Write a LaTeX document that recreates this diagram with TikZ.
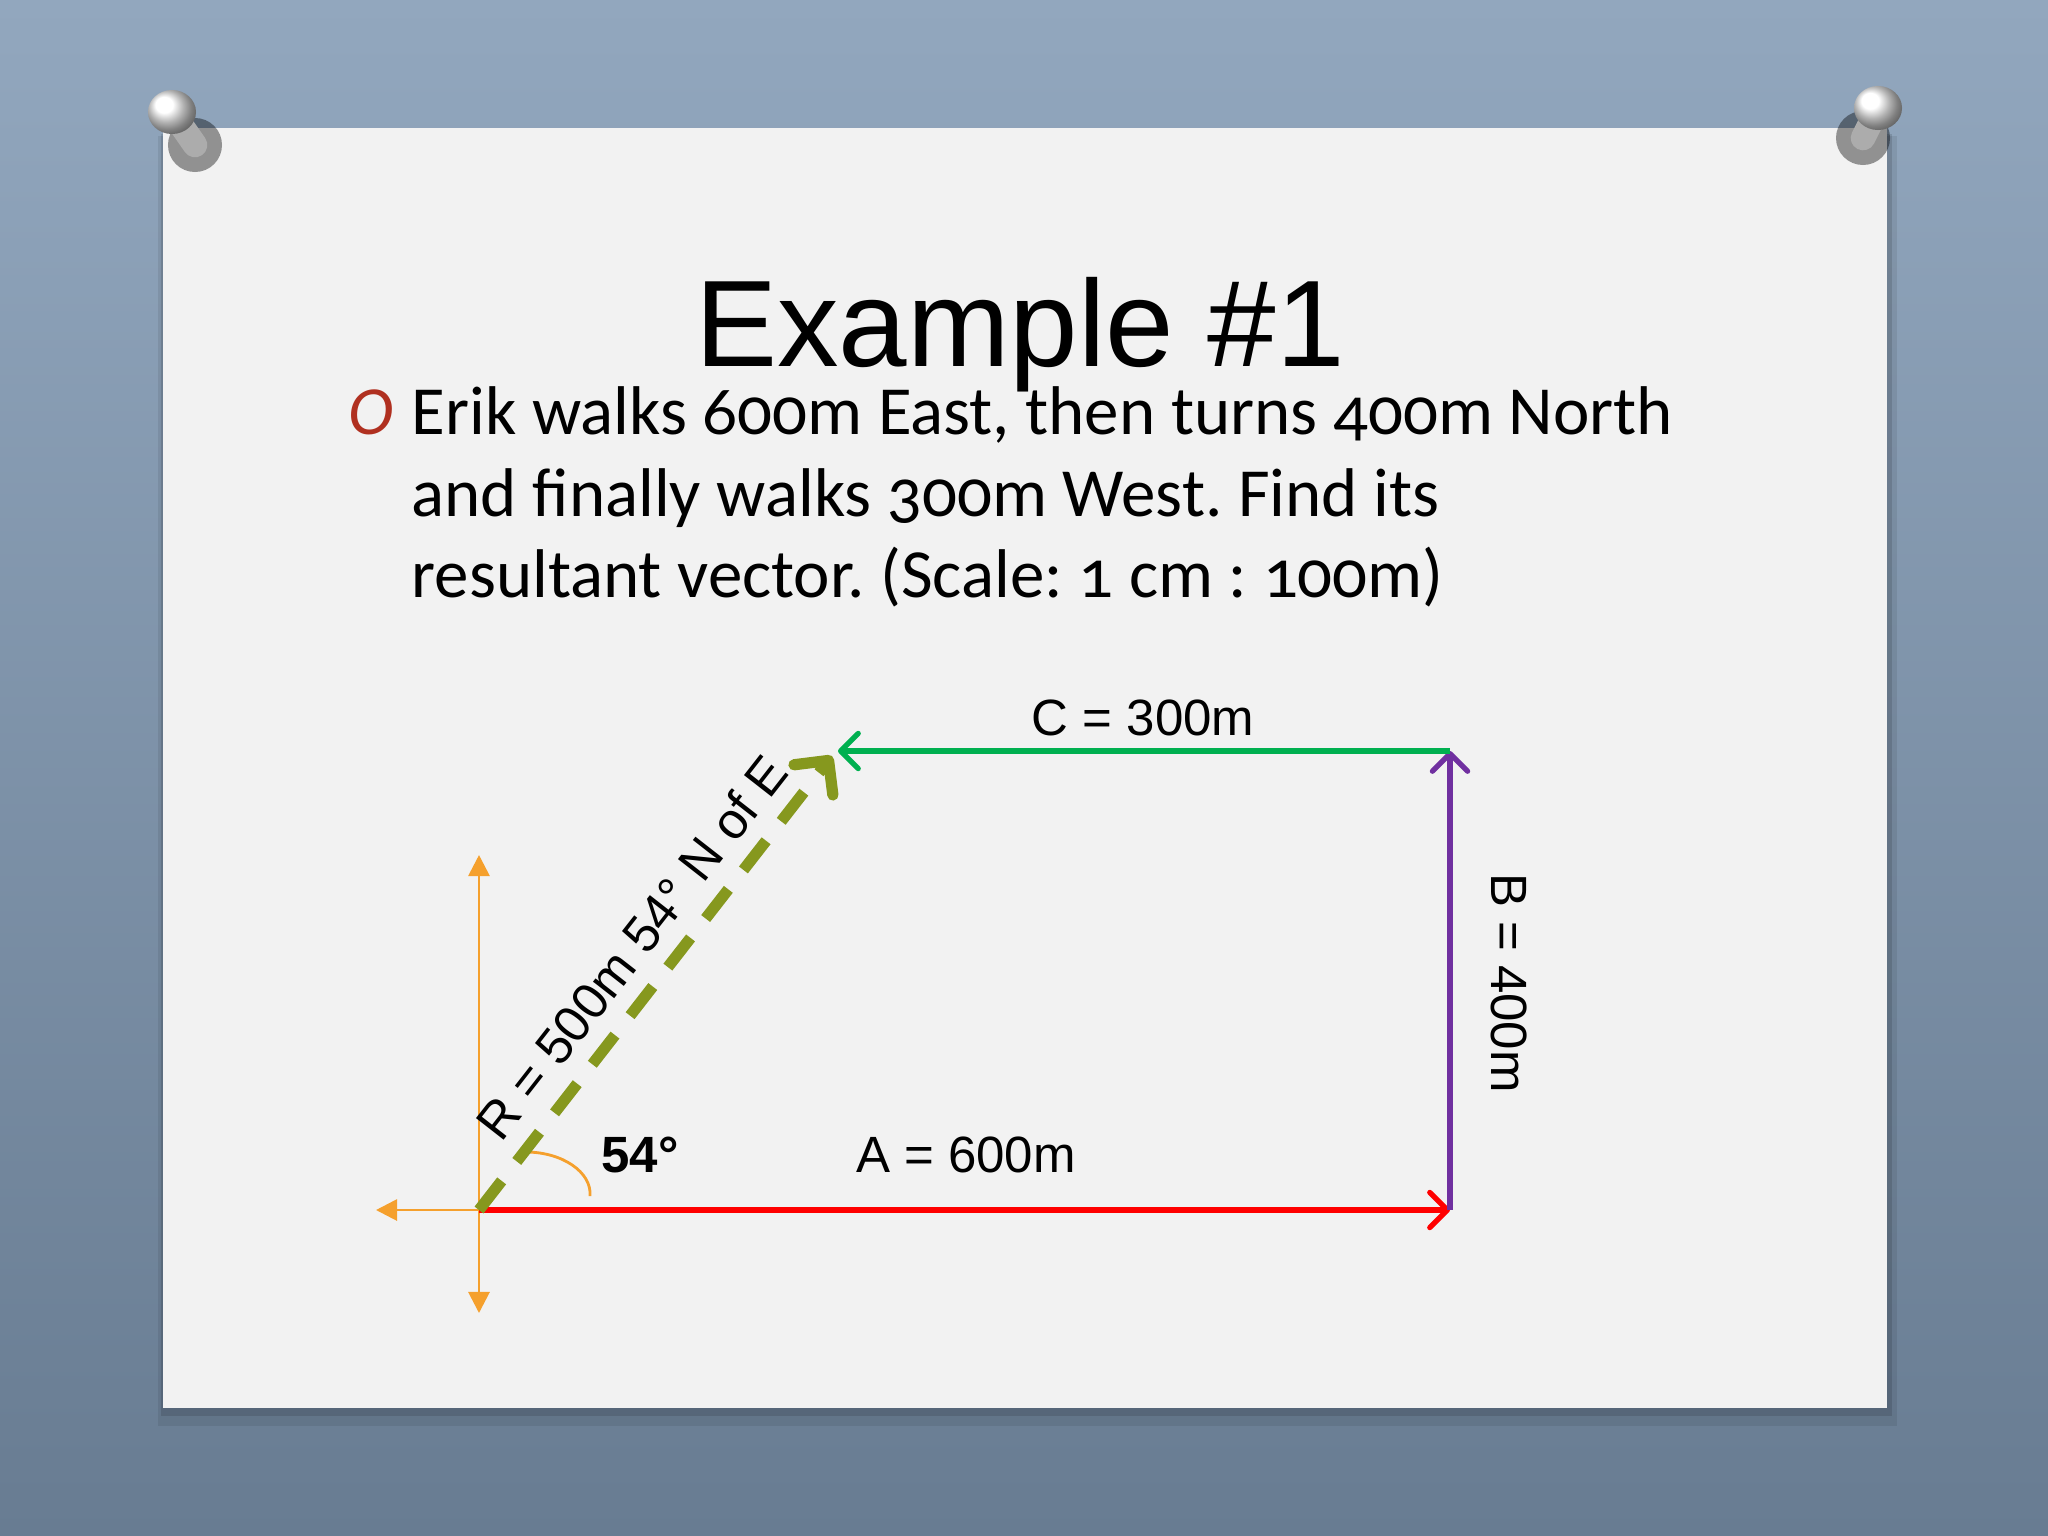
\documentclass[tikz,border=0pt]{standalone}
\usepackage{fontspec}
\setmainfont{Liberation Sans}
\newfontfamily\bodyfont[Numbers=OldStyle]{Carlito}
\usetikzlibrary{arrows.meta}
\frenchspacing

\definecolor{wallblue}{RGB}{146,167,190}
\definecolor{walldark}{RGB}{104,124,146}
\definecolor{slidegray}{RGB}{242,242,242}
\definecolor{bulletred}{RGB}{176,48,32}
\definecolor{vecred}{RGB}{255,0,0}
\definecolor{vecgreen}{RGB}{0,176,80}
\definecolor{vecpurple}{RGB}{112,48,160}
\definecolor{axisorange}{RGB}{245,160,45}
\definecolor{resolive}{RGB}{134,152,30}

\begin{document}
\begin{tikzpicture}[x=0.01cm, y=-0.01cm,
    vec/.style={line width=1.5pt, -{Straight Barb[length=5pt,width=10pt,round]}},
    axis/.style={line width=0.8pt, color=axisorange, -{Triangle[length=6pt,width=6pt]}},
    lab/.style={inner sep=0pt, font=\fontsize{14.5}{17}\selectfont},
    body/.style={anchor=base west, inner sep=0pt, font=\bodyfont\fontsize{19.6}{23}\selectfont}]
    % Wall and slide
    \shade[top color=wallblue, bottom color=walldark] (0,0) rectangle (2048,1536);
    \useasboundingbox (0,0) rectangle (2048,1536);
    \fill[black, opacity=0.08] (158,136) rectangle (1897,1426);
    \fill[black, opacity=0.12] (161,134) rectangle (1892,1416);
    \fill[slidegray] (163,128) rectangle (1887,1408);

    % Pins
    \foreach \bx/\by/\hx/\hy in {195/145/172/112, 1863/138/1878/108}{
        \fill[black, opacity=0.4] (\bx,\by) circle (0.27cm);
        \draw[line width=7pt, color=gray!65, line cap=round] (\bx,\by) -- (\hx,\hy);
        \shade[ball color=white] (\hx,\hy) ellipse (0.24cm and 0.22cm);
    }

    % Title and text
    \node[anchor=base, inner sep=0pt, font=\fontsize{35}{40}\selectfont] (title) at (1020,366) {Example \#1};
    \node[anchor=base, inner sep=0pt, text=bulletred, font=\bodyfont\itshape\fontsize{19.6}{23}\selectfont] (bullet) at (371,434) {O};
    \node[body] (line1) at (411,434) {Erik walks 600m East, then turns 400m North};
    \node[body] (line2) at (411,516) {and finally walks 300m West. Find its};
    \node[body] (line3) at (411,597) {resultant vector. (Scale: 1 cm : 100m)};

    % Diagram points
    \coordinate (O) at (479,1210);
    \coordinate (E) at (1450,1210);
    \coordinate (N) at (1450,751);
    \coordinate (W) at (838,751);
    \coordinate (Rtip) at (832,756);
    \coordinate (axN) at (479,855);
    \coordinate (axS) at (479,1313);
    \coordinate (axW) at (376,1210);

    % Axes
    \draw[axis] (O) -- (axN);
    \draw[axis] (O) -- (axS);
    \draw[axis] (O) -- (axW);
    \draw[axisorange, line width=0.8pt] (526,1152) .. controls (562,1152) and (592,1172) .. (590,1196);

    % Vectors
    \draw[vec, vecred] (O) -- (E);
    \draw[vec, vecpurple] (E) -- (N);
    \draw[vec, vecgreen] (N) -- (W);
    \draw[resolive, line width=3.2pt, dash pattern=on 10.5pt off 7pt,
        -{Straight Barb[length=7pt,width=14pt,round]}] (O) -- (Rtip);

    % Labels
    \node[lab, anchor=base] (labC) at (1143,735) {C = 300m};
    \node[lab, anchor=base] (labA) at (966,1172) {A = 600m};
    \node[lab, anchor=base, font=\bfseries\fontsize{14.5}{17}\selectfont] (labAng) at (640,1172) {54°};
    \node[lab, rotate=-90] (labB) at (1509,983) {B = 400m};
    \node[lab, rotate=52] (labR) at (632,947) {R = 500m 54° N of E};
\end{tikzpicture}
\end{document}
